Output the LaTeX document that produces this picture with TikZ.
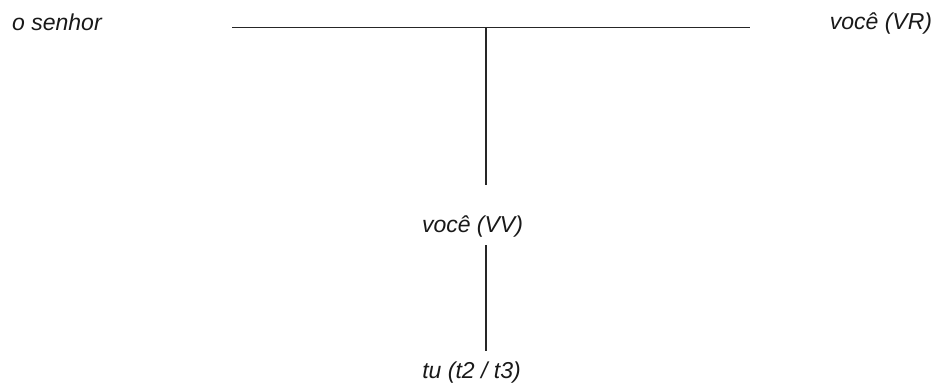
\documentclass[tikz,border=0pt]{standalone}
\usepackage{fontspec}
\setmainfont{Liberation Sans}
\begin{document}
\begin{tikzpicture}[x=1pt,y=-1pt,
  lbl/.style={inner sep=0pt,font=\fontsize{23}{27}\selectfont\itshape,text=black!90},
  ln/.style={line width=1.6pt,draw=black!85}]
\useasboundingbox (0,0) rectangle (938,385);
\node[lbl,anchor=base west] (senhor) at (12,30.5) {o senhor};
\node[lbl,anchor=base] (vr) at (881,29.5) {você (VR)};
\node[lbl,anchor=base] (vv) at (472.5,232.5) {você (VV)};
\node[lbl,anchor=base] (tu) at (471.5,378) {tu (t2 / t3)};
\coordinate (hl) at (232,27.5);
\coordinate (hr) at (750,27.5);
\coordinate (j) at (486,27.5);
\coordinate (v1) at (486,185);
\coordinate (v2a) at (486,245);
\coordinate (v2b) at (486,351);
\draw[ln] (hl) -- (hr);
\draw[ln] (j) -- (v1);
\draw[ln] (v2a) -- (v2b);
\end{tikzpicture}
\end{document}
